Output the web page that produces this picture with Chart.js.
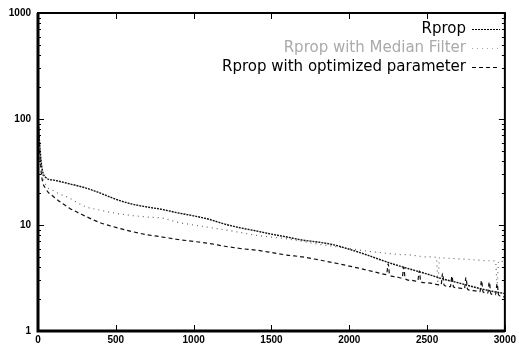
<!DOCTYPE html>
<html>
<head>
<meta charset="utf-8">
<script src="https://cdn.jsdelivr.net/npm/chart.js@4/dist/chart.umd.min.js"></script>
<style>
  html, body { margin: 0; padding: 0; background: #fff; }
  #wrap { width: 519px; height: 347px; }
</style>
</head>
<body>
<div id="wrap"><canvas id="errChart" width="519" height="347"></canvas></div>
<script>
// iterations (x axis), one list per curve because the noisy tails are sampled finer
const rpropIters = [0, 10, 25, 50, 100, 200, 300, 400, 500, 600, 700, 800, 900, 1000,
  1100, 1200, 1300, 1400, 1500, 1600, 1700, 1800, 1900, 2000, 2100, 2200, 2300,
  2400, 2500, 2600, 2700, 2800, 2900, 3000];
const medianIters = [0, 10, 25, 50, 100, 200, 300, 400, 500, 600, 700, 800, 900, 1000,
  1100, 1200, 1300, 1400, 1500, 1600, 1700, 1800, 1900, 2000, 2100, 2200, 2300,
  2400, 2500, 2560, 2570, 2580, 2600, 2700, 2800, 2900, 2940, 2950, 2960, 3000];
const optimizedIters = [0, 10, 25, 50, 100, 200, 300, 400, 500, 600, 700, 800, 900, 1000,
  1100, 1200, 1300, 1400, 1500, 1600, 1700, 1800, 1900, 2000, 2100, 2200,
  2240, 2250, 2260, 2300, 2340, 2350, 2360, 2400, 2440, 2450, 2460, 2500,
  2590, 2600, 2610, 2650, 2660, 2670, 2700, 2740, 2750, 2760, 2800,
  2840, 2850, 2860, 2890, 2900, 2910, 2940, 2950, 2960, 3000];

// error values (log scale)
const rprop = [110, 60, 35, 28, 26.5, 24.5, 22.5, 20, 17.5, 15.8, 14.8, 14, 13, 12.2,
  11.3, 10.2, 9.4, 8.8, 8.2, 7.7, 7.2, 6.9, 6.5, 5.9, 5.3, 4.7, 4.2,
  3.8, 3.45, 3.1, 2.85, 2.6, 2.4, 2.25];
const rpropMedian = [110, 55, 32, 24, 21, 18, 15, 13.8, 12.9, 12.3, 11.9, 11.6, 10.6, 10,
  9.5, 9, 8.5, 8, 7.7, 7.4, 7, 6.6, 6.3, 6.0, 5.7, 5.5, 5.3,
  5.2, 5.0, 4.95, 2.9, 4.93, 4.9, 4.8, 4.7, 4.6, 4.55, 2.8, 4.55, 4.5];
const rpropOptimized = [110, 50, 28, 22, 18.5, 14.5, 12.2, 10.5, 9.5, 8.7, 8.1, 7.7, 7.3, 7.0,
  6.7, 6.3, 6.0, 5.8, 5.5, 5.2, 5.0, 4.7, 4.4, 4.1, 3.8, 3.5,
  3.4, 4.3, 3.35, 3.25, 3.15, 4.0, 3.1, 3.0, 2.95, 3.7, 2.9, 2.85,
  2.72, 3.5, 2.7, 2.62, 3.3, 2.6, 2.55, 2.5, 3.2, 2.48, 2.4,
  2.35, 3.0, 2.33, 2.28, 2.9, 2.25, 2.2, 2.8, 2.18, 2.1];

const seriesNames = ['Rprop', 'Rprop with Median Filter', 'Rprop with optimized parameter'];
const xTicks = [0, 500, 1000, 1500, 2000, 2500, 3000];
const yTicks = [1, 10, 100, 1000];

const toPoints = (xs, ys) => ys.map((v, i) => ({ x: xs[i], y: v }));
const tickFont = { family: '"Liberation Sans", Arial, sans-serif', size: 10, weight: 'bold' };

// gnuplot style frame with inward ticks
const framePlugin = {
  id: 'frame',
  afterDatasetsDraw(chart) {
    const ctx = chart.ctx;
    const a = chart.chartArea;
    const xs = chart.scales.x, ys = chart.scales.y;
    ctx.save();
    ctx.strokeStyle = '#000';
    ctx.lineWidth = 1;
    // y ticks (major + minor)
    for (let d = 1; d < 1000; d *= 10) {
      for (let m = 1; m <= 9; m++) {
        const py = Math.round(ys.getPixelForValue(d * m)) + 0.5;
        const len = m === 1 ? 6 : 3;
        ctx.beginPath();
        ctx.moveTo(a.left, py); ctx.lineTo(a.left + len, py);
        ctx.moveTo(a.right, py); ctx.lineTo(a.right - len, py);
        ctx.stroke();
      }
    }
    xTicks.forEach(v => {
      const px = Math.round(xs.getPixelForValue(v)) + 0.5;
      ctx.beginPath();
      ctx.moveTo(px, a.bottom); ctx.lineTo(px, a.bottom - 6);
      ctx.moveTo(px, a.top); ctx.lineTo(px, a.top + 6);
      ctx.stroke();
    });
    ctx.lineWidth = 2;
    ctx.strokeRect(a.left, a.top, a.right - a.left, a.bottom - a.top);
    ctx.lineWidth = 3;
    ctx.beginPath();
    ctx.moveTo(a.left, a.top); ctx.lineTo(a.left, a.bottom); ctx.lineTo(a.right, a.bottom);
    ctx.stroke();
    ctx.restore();
  }
};

// legend: right aligned text, line sample after the text
const keyPlugin = {
  id: 'key',
  afterDraw(chart) {
    const ctx = chart.ctx;
    ctx.save();
    ctx.font = '15px "DejaVu Sans", sans-serif';
    ctx.textAlign = 'right';
    ctx.textBaseline = 'middle';
    chart.data.datasets.forEach((ds, i) => {
      const y = 29 + i * 19;
      ctx.fillStyle = ds.keyColor;
      ctx.fillText(ds.label, 466, y);
      ctx.strokeStyle = ds.keyColor;
      ctx.lineWidth = 1;
      ctx.setLineDash(ds.borderDash);
      ctx.beginPath();
      ctx.moveTo(472, y + 0.5); ctx.lineTo(500, y + 0.5);
      ctx.stroke();
    });
    ctx.restore();
  }
};

const ctx = document.getElementById('errChart').getContext('2d');
const errChart = new Chart(ctx, {
  type: 'line',
  data: {
    datasets: [
      {
        label: seriesNames[0],
        data: toPoints(rpropIters, rprop),
        borderColor: '#111',
        keyColor: '#000',
        borderWidth: 1.4,
        borderDash: [2, 1],
        pointRadius: 0,
        cubicInterpolationMode: 'monotone'
      },
      {
        label: seriesNames[1],
        data: toPoints(medianIters, rpropMedian),
        borderColor: '#666',
        keyColor: '#aaa',
        borderWidth: 1.2,
        borderDash: [1, 4],
        pointRadius: 0,
        cubicInterpolationMode: 'monotone'
      },
      {
        label: seriesNames[2],
        data: toPoints(optimizedIters, rpropOptimized),
        borderColor: '#111',
        keyColor: '#000',
        borderWidth: 1.2,
        borderDash: [4, 3],
        pointRadius: 0,
        cubicInterpolationMode: 'monotone'
      }
    ]
  },
  options: {
    responsive: false,
    animation: false,
    layout: { padding: { top: 13, right: 11, left: 0, bottom: 0 } },
    plugins: {
      legend: { display: false },
      tooltip: { enabled: false }
    },
    scales: {
      x: {
        type: 'linear',
        min: 0,
        max: 3000,
        afterBuildTicks: s => { s.ticks = xTicks.map(v => ({ value: v })); },
        afterFit: s => { s.height = 16; },
        grid: { display: false, drawTicks: false },
        border: { display: false },
        ticks: {
          padding: 3,
          color: '#000',
          maxRotation: 0,
          callback: v => String(v),
          font: tickFont
        }
      },
      y: {
        type: 'logarithmic',
        min: 1,
        max: 1000,
        afterBuildTicks: s => { s.ticks = yTicks.map(v => ({ value: v })); },
        afterFit: s => { s.width = 38; },
        grid: { display: false, drawTicks: false },
        border: { display: false },
        ticks: {
          padding: 7,
          color: '#000',
          callback: v => String(v),
          font: tickFont
        }
      }
    }
  },
  plugins: [framePlugin, keyPlugin]
});
</script>
</body>
</html>
